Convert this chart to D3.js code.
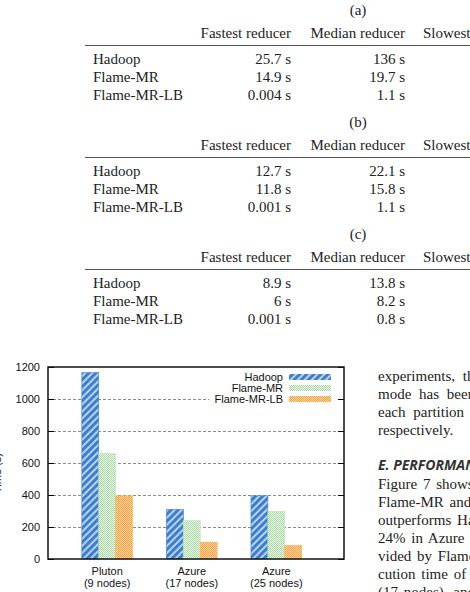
<!DOCTYPE html>
<html>
<head>
<meta charset="utf-8">
<script src="https://cdn.jsdelivr.net/npm/d3@7"></script>
<style>
body { margin: 0; background: #fff; }
svg { display: block; }
.tbl_text { font-family: "Liberation Serif", "DejaVu Serif", serif; font-size: 15px; fill: #222; }
.body_text { font-family: "Liberation Serif", "DejaVu Serif", serif; font-size: 15px; fill: #222; }
.sec_head { font-family: "Open Sans", "Liberation Sans", sans-serif; font-size: 14px; font-weight: bold; font-style: italic; fill: #333; }
.chart_text { font-family: "Liberation Sans", Arial, sans-serif; font-size: 11px; fill: #111; }
</style>
</head>
<body>
<svg id="page" width="470" height="592"></svg>
<script>
// 表のデータ
const table_titles = ['(a)', '(b)', '(c)'];
const table_columns = ['Fastest reducer', 'Median reducer', 'Slowest reducer'];
const table_rows = ['Hadoop', 'Flame-MR', 'Flame-MR-LB'];
const fastest_values = [
    ['25.7 s', '14.9 s', '0.004 s'],
    ['12.7 s', '11.8 s', '0.001 s'],
    ['8.9 s', '6 s', '0.001 s']
];
const median_values = [
    ['136 s', '19.7 s', '1.1 s'],
    ['22.1 s', '15.8 s', '1.1 s'],
    ['13.8 s', '8.2 s', '0.8 s']
];

// グラフのデータ
const categories = ['Pluton', 'Azure', 'Azure'];
const category_nodes = ['(9 nodes)', '(17 nodes)', '(25 nodes)'];
const series_names = ['Hadoop', 'Flame-MR', 'Flame-MR-LB'];
const hadoop_values = [1165, 310, 395];
const flame_mr_values = [660, 240, 298];
const flame_mr_lb_values = [395, 105, 85];
const y_ticks = [0, 200, 400, 600, 800, 1000, 1200];
const y_label = 'Time (s)';

// 本文
const body_lines_top = ['experiments, the', 'mode has been', 'each partition is', 'respectively.'];
const section_head = 'E. PERFORMANCE';
const body_lines_bottom = [
    'Figure 7 shows the', 'Flame-MR and', 'outperforms Hadoop', '24% in Azure for',
    'vided by Flame-MR', 'cution time of', '(17 nodes), and'
];

const svg = d3.select('#page');

// 表を描画
function draw_tables() {
    table_titles.forEach(function(title, t) {
        let top = t * 112;
        svg.append('text')
            .attr('class', 'tbl_text')
            .attr('x', 358).attr('y', top + 15)
            .attr('text-anchor', 'middle')
            .text(title);
        // 見出し
        svg.append('text').attr('class', 'tbl_text')
            .attr('x', 291).attr('y', top + 38).attr('text-anchor', 'end')
            .text(table_columns[0]);
        svg.append('text').attr('class', 'tbl_text')
            .attr('x', 405).attr('y', top + 38).attr('text-anchor', 'end')
            .text(table_columns[1]);
        svg.append('text').attr('class', 'tbl_text')
            .attr('x', 423).attr('y', top + 38)
            .text(table_columns[2]);
        svg.append('line')
            .attr('x1', 85).attr('x2', 470)
            .attr('y1', top + 45.5).attr('y2', top + 45.5)
            .attr('stroke', '#555').attr('stroke-width', 1);
        table_rows.forEach(function(name, r) {
            let y = top + 64 + r * 18;
            svg.append('text').attr('class', 'tbl_text')
                .attr('x', 93).attr('y', y).text(name);
            svg.append('text').attr('class', 'tbl_text')
                .attr('x', 291).attr('y', y).attr('text-anchor', 'end')
                .text(fastest_values[t][r]);
            svg.append('text').attr('class', 'tbl_text')
                .attr('x', 405).attr('y', y).attr('text-anchor', 'end')
                .text(median_values[t][r]);
        });
    });
}

// 塗りつぶしパターン
function define_patterns() {
    let defs = svg.append('defs');
    let p_blue = defs.append('pattern')
        .attr('id', 'pat_hadoop').attr('patternUnits', 'userSpaceOnUse')
        .attr('width', 5).attr('height', 5)
        .attr('patternTransform', 'rotate(45)');
    p_blue.append('rect').attr('width', 5).attr('height', 5).attr('fill', '#c2dcf5');
    p_blue.append('rect').attr('width', 3.2).attr('height', 5).attr('fill', '#3f7fca');

    // 細かい市松模様
    let checker = function(id, bg, fg) {
        let p = defs.append('pattern')
            .attr('id', id).attr('patternUnits', 'userSpaceOnUse')
            .attr('width', 2).attr('height', 2);
        p.append('rect').attr('width', 2).attr('height', 2).attr('fill', bg);
        p.append('rect').attr('width', 1).attr('height', 1).attr('fill', fg);
        p.append('rect').attr('x', 1).attr('y', 1).attr('width', 1).attr('height', 1).attr('fill', fg);
    };
    checker('pat_flame', '#eef8ec', '#a6d9a1');
    checker('pat_flame_lb', '#fcd7a4', '#f7a241');
}

// 棒グラフを描画
function draw_chart() {
    const left = 48, right = 344, top = 367, bottom = 559;
    const x = d3.scaleLinear().domain([-0.7, 2.8]).range([left, right]);
    const y = d3.scaleLinear().domain([0, 1200]).range([bottom, top]);
    const bar_w = 0.2;
    const fills = ['url(#pat_hadoop)', 'url(#pat_flame)', 'url(#pat_flame_lb)'];
    const edges = ['#3f7fca', '#bfe3bb', '#f7ad5a'];
    const series = [hadoop_values, flame_mr_values, flame_mr_lb_values];

    // グリッド線
    svg.append('g')
        .selectAll('line')
        .data(y_ticks.filter(d => d > 0 && d < 1200))
        .join('line')
        .attr('x1', left).attr('x2', right)
        .attr('y1', d => Math.round(y(d)) + 0.5)
        .attr('y2', d => Math.round(y(d)) + 0.5)
        .attr('stroke', '#8a8a8a').attr('stroke-width', 1)
        .attr('stroke-dasharray', '3,2');

    // 棒
    series.forEach(function(values, s) {
        svg.append('g')
            .selectAll('rect')
            .data(values)
            .join('rect')
            .attr('x', (d, i) => x(i + (s - 1.5) * bar_w))
            .attr('width', x(bar_w) - x(0))
            .attr('y', d => y(d))
            .attr('height', d => y(0) - y(d))
            .attr('fill', fills[s])
            .attr('stroke', edges[s]).attr('stroke-width', 0.6);
    });

    // 凡例（背景は白で線を隠す）
    svg.append('rect')
        .attr('x', 209).attr('y', 370).attr('width', 128).attr('height', 34)
        .attr('fill', '#fff');
    series_names.forEach(function(name, s) {
        let cy = 377 + s * 11;
        svg.append('text').attr('class', 'chart_text')
            .attr('x', 283).attr('y', cy).attr('dy', '0.36em')
            .attr('text-anchor', 'end')
            .text(name);
        svg.append('rect')
            .attr('x', 289).attr('y', cy - 3).attr('width', 42).attr('height', 6)
            .attr('fill', fills[s]);
    });

    // 枠と目盛り
    const y_axis_l = d3.axisRight(y).tickValues(y_ticks).tickSize(6).tickFormat('');
    const y_axis_r = d3.axisLeft(y).tickValues(y_ticks).tickSize(6).tickFormat('');
    svg.append('g').attr('transform', `translate(${left},0)`).call(y_axis_l)
        .call(g => g.select('.domain').remove());
    svg.append('g').attr('transform', `translate(${right},0)`).call(y_axis_r)
        .call(g => g.select('.domain').remove());
    svg.append('rect')
        .attr('x', left).attr('y', top)
        .attr('width', right - left).attr('height', bottom - top)
        .attr('fill', 'none').attr('stroke', '#111').attr('stroke-width', 1.5);

    // 目盛りラベル
    svg.append('g')
        .selectAll('text')
        .data(y_ticks)
        .join('text')
        .attr('class', 'chart_text')
        .attr('x', 40).attr('y', d => y(d)).attr('dy', '0.36em')
        .attr('text-anchor', 'end')
        .text(d => d);

    svg.append('g')
        .selectAll('text')
        .data(categories)
        .join('text')
        .attr('class', 'chart_text')
        .attr('x', (d, i) => x(i))
        .attr('y', 575)
        .attr('text-anchor', 'middle')
        .text(d => d);
    svg.append('g')
        .selectAll('text')
        .data(category_nodes)
        .join('text')
        .attr('class', 'chart_text')
        .attr('x', (d, i) => x(i))
        .attr('y', 587)
        .attr('text-anchor', 'middle')
        .text(d => d);

    // 縦軸ラベル（左端でほぼ切れている）
    svg.append('text')
        .attr('class', 'chart_text')
        .attr('transform', 'translate(0.5,473) rotate(-90)')
        .attr('text-anchor', 'middle')
        .text(y_label);
}

// 右側の本文
function draw_body() {
    body_lines_top.forEach(function(line, i) {
        svg.append('text').attr('class', 'body_text')
            .attr('x', 378).attr('y', 381 + i * 18)
            .attr('word-spacing', '4px')
            .text(line);
    });
    svg.append('text').attr('class', 'sec_head')
        .attr('x', 378).attr('y', 470)
        .text(section_head);
    body_lines_bottom.forEach(function(line, i) {
        svg.append('text').attr('class', 'body_text')
            .attr('x', 378).attr('y', 489 + i * 18)
            .attr('word-spacing', '2px')
            .text(line);
    });
}

draw_tables();
define_patterns();
draw_chart();
draw_body();
</script>
</body>
</html>
